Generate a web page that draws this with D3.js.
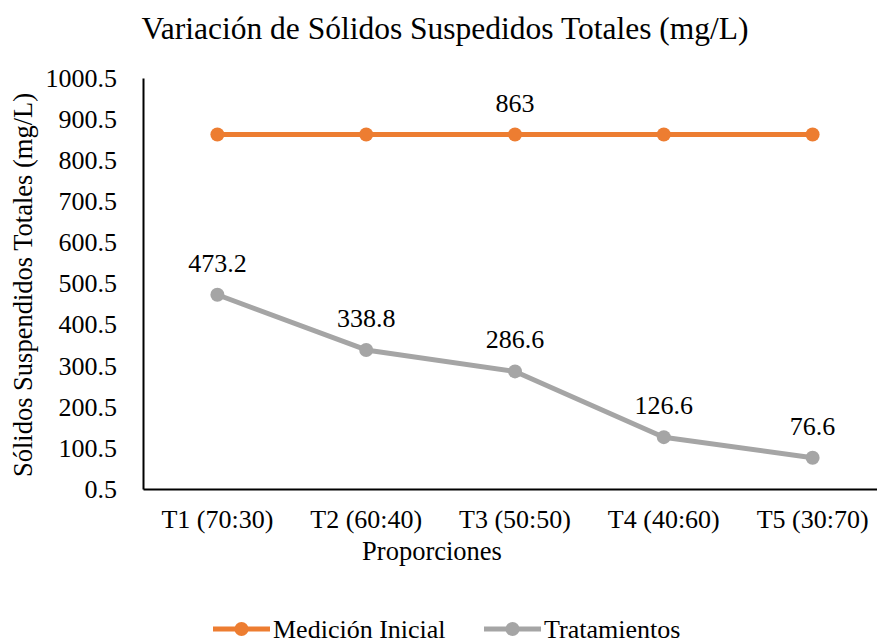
<!DOCTYPE html>
<html>
<head>
<meta charset="utf-8">
<script src="https://cdn.jsdelivr.net/npm/d3@7"></script>
<style>
  body { margin: 0; background: #fff; }
  text { font-family: "Liberation Serif", "Times New Roman", serif; fill: #000; }
</style>
</head>
<body>
<svg width="877" height="640"></svg>
<script>
let width = 877;
let height = 640;

// data
let categories = ['T1 (70:30)', 'T2 (60:40)', 'T3 (50:50)', 'T4 (40:60)', 'T5 (30:70)'];
let inicial = [863, 863, 863, 863, 863];
let tratamientos = [473.2, 338.8, 286.6, 126.6, 76.6];
let yTicks = [0.5, 100.5, 200.5, 300.5, 400.5, 500.5, 600.5, 700.5, 800.5, 900.5, 1000.5];

let margin = { left: 143, right: -10, top: 78, bottom: 151 };

let svg = d3.select('svg');

let x = d3.scaleBand()
  .domain(categories)
  .range([margin.left, width - margin.right]);

let y = d3.scaleLinear()
  .domain([0.5, 1000.5])
  .range([height - margin.bottom, margin.top]);

// title
svg.append('text')
  .attr('x', 445)
  .attr('y', 39)
  .attr('text-anchor', 'middle')
  .style('font-size', '31.5px')
  .text('Variación de Sólidos Suspedidos Totales (mg/L)');

// y axis
let yAxis = svg.append('g')
  .attr('transform', `translate(${margin.left},0)`)
  .call(d3.axisLeft(y).tickValues(yTicks).tickSize(0).tickPadding(26).tickFormat(d => d));
yAxis.select('.domain').attr('stroke', '#000').attr('stroke-width', 2);
yAxis.selectAll('text').style('font-size', '26px').style('font-family', '"Liberation Serif", serif');

// x axis
let xAxis = svg.append('g')
  .attr('transform', `translate(0,${y(0.5)})`)
  .call(d3.axisBottom(x).tickSize(0).tickPadding(21));
xAxis.select('.domain').attr('stroke', '#000').attr('stroke-width', 2);
xAxis.selectAll('text').style('font-size', '26px').style('font-family', '"Liberation Serif", serif');

// axis titles
svg.append('text')
  .attr('transform', `translate(32,${285}) rotate(-90)`)
  .attr('text-anchor', 'middle')
  .style('font-size', '26.5px')
  .text('Sólidos Suspendidos Totales (mg/L)');

svg.append('text')
  .attr('x', 432)
  .attr('y', 560)
  .attr('text-anchor', 'middle')
  .style('font-size', '26.5px')
  .text('Proporciones');

let cx = d => x(d) + x.bandwidth() / 2;

let line = d3.line()
  .x((d, i) => cx(categories[i]))
  .y(d => y(d));

let series = [
  { name: 'Medición Inicial', values: inicial, color: '#ED7D31', labels: [2] },
  { name: 'Tratamientos', values: tratamientos, color: '#A5A5A5', labels: [0, 1, 2, 3, 4] }
];

series.forEach(s => {
  let g = svg.append('g');
  g.append('path')
    .attr('d', line(s.values))
    .attr('fill', 'none')
    .attr('stroke', s.color)
    .attr('stroke-width', 5)
    .attr('stroke-linejoin', 'round');
  g.selectAll('circle')
    .data(s.values)
    .enter()
      .append('circle')
      .attr('cx', (d, i) => cx(categories[i]))
      .attr('cy', d => y(d))
      .attr('r', 7)
      .attr('fill', s.color);
  g.selectAll('text')
    .data(s.labels)
    .enter()
      .append('text')
      .attr('x', i => cx(categories[i]))
      .attr('y', i => y(s.values[i]) - 23)
      .attr('text-anchor', 'middle')
      .style('font-size', '26px')
      .text(i => s.values[i]);
});

// legend
let legend = svg.append('g').attr('transform', 'translate(0,629)');
let legendX = [213, 484];
series.forEach((s, i) => {
  let lg = legend.append('g').attr('transform', `translate(${legendX[i]},0)`);
  lg.append('line')
    .attr('x1', 0).attr('x2', 57)
    .attr('stroke', s.color).attr('stroke-width', 5);
  lg.append('circle')
    .attr('cx', 28.5).attr('r', 7).attr('fill', s.color);
  lg.append('text')
    .attr('x', 60)
    .attr('dy', '0.33em')
    .style('font-size', '26px')
    .text(s.name);
});
</script>
</body>
</html>
